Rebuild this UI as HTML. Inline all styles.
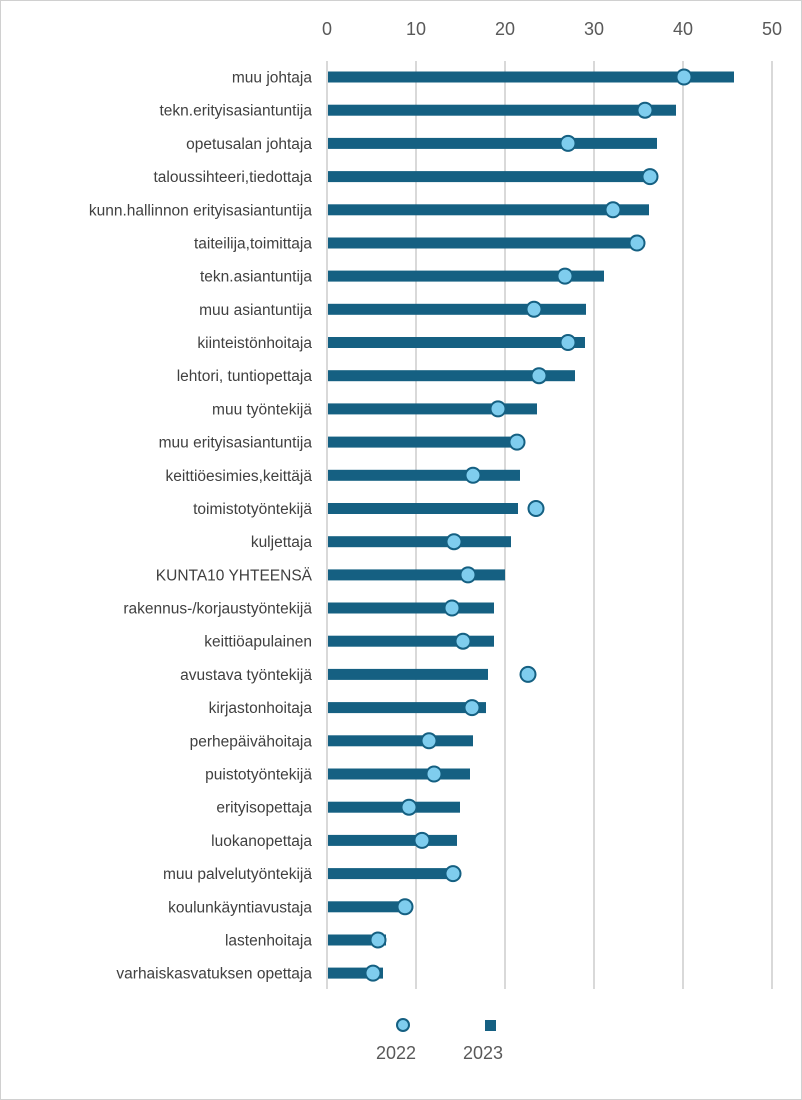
<!DOCTYPE html>
<html><head><meta charset="utf-8"><style>
html,body{margin:0;padding:0;background:#fff}
svg{display:block}
text{font-family:"Liberation Sans",sans-serif}
.b{fill:#156082}
.c{fill:#7fcdee;stroke:#156082;stroke-width:2}
.l{font-size:15.5px;fill:#404040;text-anchor:end}
</style></head><body>
<svg width="802" height="1100" xmlns="http://www.w3.org/2000/svg">
<rect x="0.5" y="0.5" width="801" height="1099" fill="#fff" stroke="#d0d0d0"/>
<g stroke="#d9d9d9" stroke-width="2">
<line x1="327" y1="61" x2="327" y2="989"/>
<line x1="416" y1="61" x2="416" y2="989"/>
<line x1="505" y1="61" x2="505" y2="989"/>
<line x1="594" y1="61" x2="594" y2="989"/>
<line x1="683" y1="61" x2="683" y2="989"/>
<line x1="772" y1="61" x2="772" y2="989"/>
</g>
<g font-size="18" fill="#595959" text-anchor="middle">
<text x="327" y="35">0</text><text x="416" y="35">10</text><text x="505" y="35">20</text>
<text x="594" y="35">30</text><text x="683" y="35">40</text><text x="772" y="35">50</text>
</g>

<rect class="b" x="328" y="71.5" width="406" height="11"/><circle class="c" cx="684" cy="77" r="7.5"/><text class="l" x="312" y="82.5">muu johtaja</text>
<rect class="b" x="328" y="104.7" width="348" height="11"/><circle class="c" cx="645" cy="110.2" r="7.5"/><text class="l" x="312" y="115.7">tekn.erityisasiantuntija</text>
<rect class="b" x="328" y="137.9" width="329" height="11"/><circle class="c" cx="568" cy="143.4" r="7.5"/><text class="l" x="312" y="148.9">opetusalan johtaja</text>
<rect class="b" x="328" y="171.1" width="317" height="11"/><circle class="c" cx="650" cy="176.6" r="7.5"/><text class="l" x="312" y="182.1">taloussihteeri,tiedottaja</text>
<rect class="b" x="328" y="204.3" width="321" height="11"/><circle class="c" cx="613" cy="209.8" r="7.5"/><text class="l" x="312" y="215.3">kunn.hallinnon erityisasiantuntija</text>
<rect class="b" x="328" y="237.5" width="306" height="11"/><circle class="c" cx="637" cy="243" r="7.5"/><text class="l" x="312" y="248.5">taiteilija,toimittaja</text>
<rect class="b" x="328" y="270.6" width="276" height="11"/><circle class="c" cx="565" cy="276.1" r="7.5"/><text class="l" x="312" y="281.6">tekn.asiantuntija</text>
<rect class="b" x="328" y="303.8" width="258" height="11"/><circle class="c" cx="534" cy="309.3" r="7.5"/><text class="l" x="312" y="314.8">muu asiantuntija</text>
<rect class="b" x="328" y="337" width="257" height="11"/><circle class="c" cx="568" cy="342.5" r="7.5"/><text class="l" x="312" y="348">kiinteistönhoitaja</text>
<rect class="b" x="328" y="370.2" width="247" height="11"/><circle class="c" cx="539" cy="375.7" r="7.5"/><text class="l" x="312" y="381.2">lehtori, tuntiopettaja</text>
<rect class="b" x="328" y="403.4" width="209" height="11"/><circle class="c" cx="498" cy="408.9" r="7.5"/><text class="l" x="312" y="414.4">muu työntekijä</text>
<rect class="b" x="328" y="436.6" width="191" height="11"/><circle class="c" cx="517" cy="442.1" r="7.5"/><text class="l" x="312" y="447.6">muu erityisasiantuntija</text>
<rect class="b" x="328" y="469.8" width="192" height="11"/><circle class="c" cx="473" cy="475.3" r="7.5"/><text class="l" x="312" y="480.8">keittiöesimies,keittäjä</text>
<rect class="b" x="328" y="503" width="190" height="11"/><circle class="c" cx="536" cy="508.5" r="7.5"/><text class="l" x="312" y="514">toimistotyöntekijä</text>
<rect class="b" x="328" y="536.2" width="183" height="11"/><circle class="c" cx="454" cy="541.7" r="7.5"/><text class="l" x="312" y="547.2">kuljettaja</text>
<rect class="b" x="328" y="569.4" width="177" height="11"/><circle class="c" cx="468" cy="574.9" r="7.5"/><text class="l" x="312" y="580.4">KUNTA10 YHTEENSÄ</text>
<rect class="b" x="328" y="602.5" width="166" height="11"/><circle class="c" cx="452" cy="608" r="7.5"/><text class="l" x="312" y="613.5">rakennus-/korjaustyöntekijä</text>
<rect class="b" x="328" y="635.7" width="166" height="11"/><circle class="c" cx="463" cy="641.2" r="7.5"/><text class="l" x="312" y="646.7">keittiöapulainen</text>
<rect class="b" x="328" y="668.9" width="160" height="11"/><circle class="c" cx="528" cy="674.4" r="7.5"/><text class="l" x="312" y="679.9">avustava työntekijä</text>
<rect class="b" x="328" y="702.1" width="158" height="11"/><circle class="c" cx="472" cy="707.6" r="7.5"/><text class="l" x="312" y="713.1">kirjastonhoitaja</text>
<rect class="b" x="328" y="735.3" width="145" height="11"/><circle class="c" cx="429" cy="740.8" r="7.5"/><text class="l" x="312" y="746.3">perhepäivähoitaja</text>
<rect class="b" x="328" y="768.5" width="142" height="11"/><circle class="c" cx="434" cy="774" r="7.5"/><text class="l" x="312" y="779.5">puistotyöntekijä</text>
<rect class="b" x="328" y="801.7" width="132" height="11"/><circle class="c" cx="409" cy="807.2" r="7.5"/><text class="l" x="312" y="812.7">erityisopettaja</text>
<rect class="b" x="328" y="834.9" width="129" height="11"/><circle class="c" cx="422" cy="840.4" r="7.5"/><text class="l" x="312" y="845.9">luokanopettaja</text>
<rect class="b" x="328" y="868.1" width="122" height="11"/><circle class="c" cx="453" cy="873.6" r="7.5"/><text class="l" x="312" y="879.1">muu palvelutyöntekijä</text>
<rect class="b" x="328" y="901.3" width="75" height="11"/><circle class="c" cx="405" cy="906.8" r="7.5"/><text class="l" x="312" y="912.3">koulunkäyntiavustaja</text>
<rect class="b" x="328" y="934.5" width="58" height="11"/><circle class="c" cx="378" cy="940" r="7.5"/><text class="l" x="312" y="945.5">lastenhoitaja</text>
<rect class="b" x="328" y="967.6" width="55" height="11"/><circle class="c" cx="373" cy="973.1" r="7.5"/><text class="l" x="312" y="978.6">varhaiskasvatuksen opettaja</text>

<circle cx="403" cy="1025" r="6" fill="#7fcdee" stroke="#156082" stroke-width="2"/>
<rect x="485" y="1020" width="11" height="11" fill="#156082"/>
<g font-size="18" fill="#595959" text-anchor="middle">
<text x="396" y="1059">2022</text><text x="483" y="1059">2023</text>
</g>
</svg>
</body></html>
